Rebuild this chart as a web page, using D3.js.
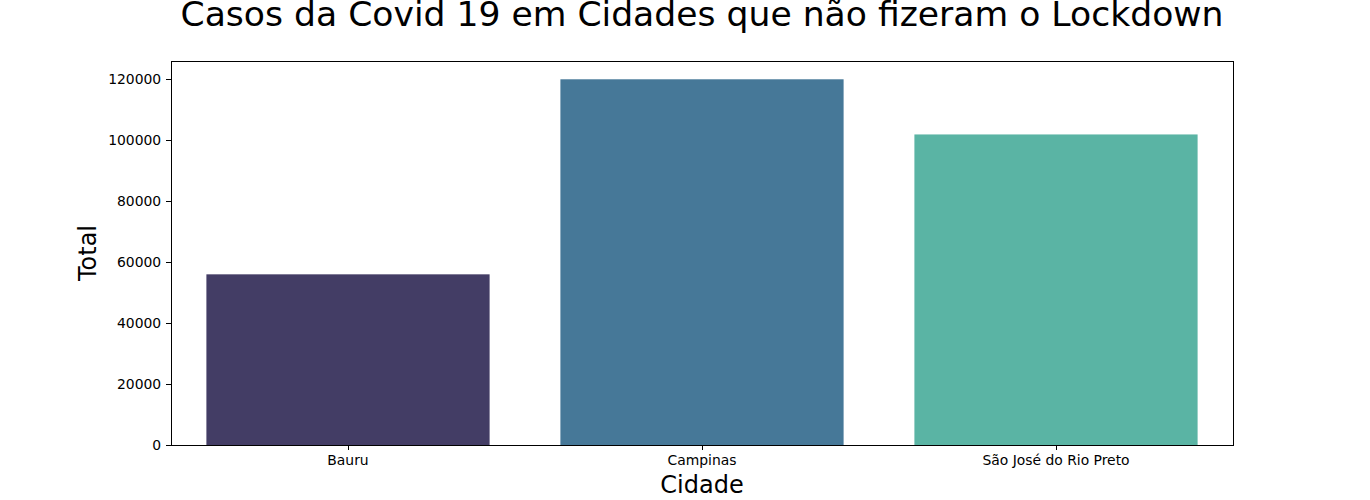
<!DOCTYPE html>
<html lang="pt">
<head>
    <meta charset="UTF-8">
    <title>Casos da Covid 19</title>
    <style>
        body{margin:0; background:#fff;}
        svg{display:block;}
        text{font-family:"DejaVu Sans", sans-serif;}
    </style>
</head>
<body>
    <div id="chart"></div>
    <script src="https://cdn.jsdelivr.net/npm/d3@7"></script>
    <script>
        // dados
        var cidades = ['Bauru', 'Campinas', 'São José do Rio Preto'];
        var totais = [56000, 120000, 101900];
        var cores = ['#433d65', '#467898', '#5ab4a4'];
        var yTicks = [0, 20000, 40000, 60000, 80000, 100000, 120000];

        var width = 1370, height = 500;
        var margin = {left: 171, right: 137, top: 61, bottom: 55};

        var svg = d3.select('#chart').append('svg')
            .attr('width', width)
            .attr('height', height);

        var xScale = d3.scaleBand()
            .domain(cidades)
            .range([margin.left, width - margin.right])
            .paddingInner(0.2)
            .paddingOuter(0.1);

        var yScale = d3.scaleLinear()
            .domain([0, d3.max(totais) * 1.05])
            .range([height - margin.bottom, margin.top]);

        // barras
        svg.append('g').selectAll('rect')
            .data(totais)
            .enter()
            .append('rect')
            .attr('x', function(d, i){ return xScale(cidades[i]); })
            .attr('y', function(d){ return yScale(d); })
            .attr('width', xScale.bandwidth())
            .attr('height', function(d){ return yScale(0) - yScale(d); })
            .attr('fill', function(d, i){ return cores[i]; });

        // eixos
        var xAxis = d3.axisBottom(xScale).tickSize(4.9).tickPadding(4.9);
        var yAxis = d3.axisLeft(yScale).tickValues(yTicks).tickSize(4.9).tickPadding(4.9)
            .tickFormat(d3.format('d'));

        var gx = svg.append('g')
            .attr('transform', 'translate(0,' + (height - margin.bottom) + ')')
            .call(xAxis);
        var gy = svg.append('g')
            .attr('transform', 'translate(' + margin.left + ',0)')
            .call(yAxis);

        [gx, gy].forEach(function(g){
            g.select('.domain').remove();
            g.selectAll('text').style('font-size', '13.9px').attr('fill', '#000')
                .style('font-family', '"DejaVu Sans", sans-serif');
            g.selectAll('line').attr('stroke', '#000').attr('stroke-width', 1)
                .attr('shape-rendering', 'crispEdges');
        });

        // moldura
        svg.append('rect')
            .attr('x', margin.left)
            .attr('y', margin.top)
            .attr('width', width - margin.left - margin.right)
            .attr('height', height - margin.top - margin.bottom)
            .attr('fill', 'none')
            .attr('stroke', '#000')
            .attr('stroke-width', 1)
            .attr('shape-rendering', 'crispEdges');

        var cx = (margin.left + width - margin.right) / 2;

        // titulo
        svg.append('text')
            .text('Casos da Covid 19 em Cidades que não fizeram o Lockdown')
            .attr('x', cx)
            .attr('y', 25.5)
            .attr('text-anchor', 'middle')
            .style('font-size', '34.6px')
            .attr('fill', '#000');

        // rotulos
        svg.append('text')
            .text('Cidade')
            .attr('x', cx)
            .attr('y', 493)
            .attr('text-anchor', 'middle')
            .style('font-size', '24px')
            .attr('fill', '#000');

        svg.append('text')
            .text('Total')
            .attr('transform', 'translate(96,' + ((margin.top + height - margin.bottom) / 2) + ') rotate(-90)')
            .attr('text-anchor', 'middle')
            .style('font-size', '24px')
            .attr('fill', '#000');
    </script>
</body>
</html>
